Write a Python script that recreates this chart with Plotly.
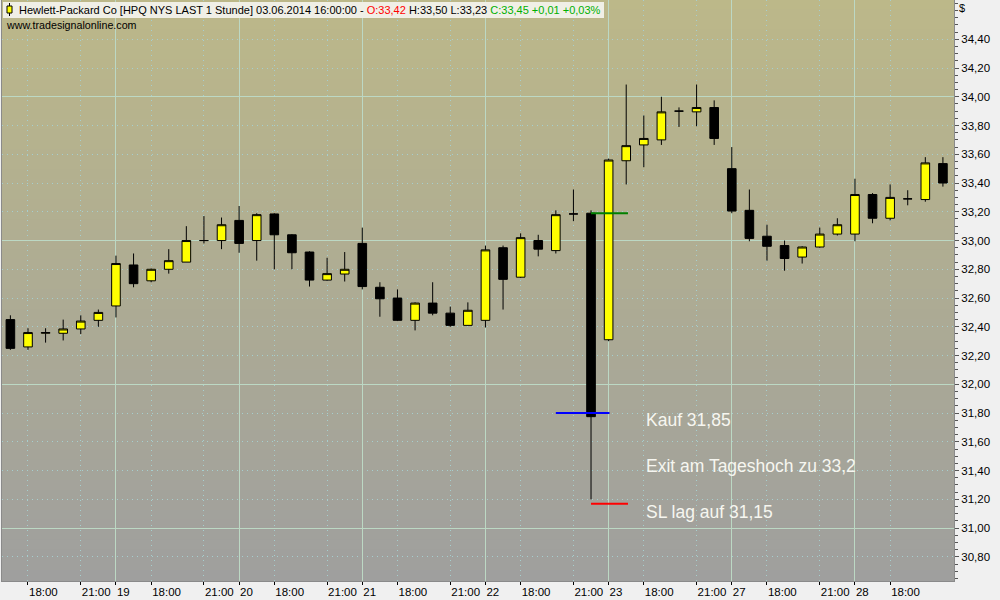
import plotly.graph_objects as go

# ---------------- data ----------------
bar_index = list(range(54))
opens = [32.45, 32.26, 32.355, 32.355, 32.385, 32.445, 32.545, 32.83, 32.72, 32.80,
         32.85, 33.00, 33.00, 33.14, 33.00, 33.185, 33.04, 32.92, 32.725, 32.767,
         32.98, 32.675, 32.60, 32.445, 32.565, 32.495, 32.41, 32.445, 32.95, 32.745,
         33.00, 32.93, 33.185, 33.19, 32.31, 33.555, 33.665, 33.70, 33.90, 33.895,
         33.925, 33.50, 33.21, 33.03, 32.965, 32.885, 32.955, 33.045, 33.045, 33.32,
         33.155, 33.29, 33.285, 33.535]
highs = [32.48, 32.39, 32.39, 32.45, 32.48, 32.52, 32.895, 32.91, 32.805, 32.94,
         33.10, 33.17, 33.16, 33.24, 33.19, 33.19, 33.045, 32.925, 32.88, 32.92,
         33.09, 32.71, 32.66, 32.57, 32.71, 32.54, 32.57, 32.965, 32.965, 33.05,
         33.04, 33.21, 33.355, 33.21, 33.57, 34.085, 33.87, 34.00, 33.926, 34.085,
         33.975, 33.65, 33.355, 33.11, 33.00, 32.96, 33.09, 33.155, 33.43, 33.33,
         33.39, 33.35, 33.58, 33.58]
lows = [32.24, 32.24, 32.29, 32.305, 32.35, 32.40, 32.465, 32.675, 32.71, 32.77,
        32.85, 32.98, 32.94, 32.915, 32.86, 32.80, 32.80, 32.68, 32.72, 32.715,
        32.66, 32.47, 32.44, 32.375, 32.48, 32.40, 32.41, 32.395, 32.52, 32.74,
        32.89, 32.91, 33.135, 31.20, 32.30, 33.39, 33.51, 33.665, 33.79, 33.795,
        33.665, 33.19, 32.995, 32.86, 32.79, 32.84, 32.95, 33.035, 32.995, 33.12,
        33.14, 33.245, 33.27, 33.375]
closes = [32.25, 32.36, 32.36, 32.385, 32.44, 32.50, 32.84, 32.70, 32.80, 32.86,
          33.00, 33.00, 33.11, 32.98, 33.18, 33.04, 32.915, 32.725, 32.77, 32.80,
          32.68, 32.595, 32.445, 32.565, 32.495, 32.41, 32.515, 32.935, 32.73, 33.02,
          32.94, 33.18, 33.185, 31.775, 33.56, 33.66, 33.71, 33.895, 33.90, 33.925,
          33.71, 33.205, 33.015, 32.96, 32.875, 32.955, 33.045, 33.11, 33.32, 33.155,
          33.30, 33.29, 33.54, 33.40]

# x-axis tick labels (bar index -> label)
tick_idx = [1, 4, 6, 8, 11, 13, 15, 18, 20, 22, 25, 27, 29, 32, 34, 36, 39, 41, 43, 46, 48, 50]
tick_text = ["18:00", "21:00", "19", "18:00", "21:00", "20", "18:00", "21:00", "21",
             "18:00", "21:00", "22", "18:00", "21:00", "23", "18:00", "21:00", "27",
             "18:00", "21:00", "28", "18:00"]
day_idx = [6, 13, 20, 27, 34, 41, 48]

# y-axis tick labels
ytick_vals = [30.8, 31.0, 31.2, 31.4, 31.6, 31.8, 32.0, 32.2, 32.4, 32.6, 32.8,
              33.0, 33.2, 33.4, 33.6, 33.8, 34.0, 34.2, 34.4]
ytick_text = ["30,80", "31,00", "31,20", "31,40", "31,60", "31,80", "32,00", "32,20",
              "32,40", "32,60", "32,80", "33,00", "33,20", "33,40", "33,60", "33,80",
              "34,00", "34,20", "34,40"]
ygrid_solid = [31.0, 32.0, 33.0, 34.0]

# trade marker lines: level, start index, end index, colour
trade_levels = [33.19, 31.80, 31.17]
trade_x0 = [33.0, 31.0, 33.0]
trade_x1 = [35.1, 34.05, 35.1]
trade_colors = ["#008000", "#0000ff", "#ff0000"]

note_texts = ["Kauf 31,85", "Exit am Tageshoch zu 33,2", "SL lag auf 31,15"]
note_levels = [31.75, 31.43, 31.11]

XR = [-0.477, 53.63]
YR = [30.632, 34.673]

# ---------------- figure ----------------
fig = go.Figure()

fig.add_trace(go.Candlestick(
    x=bar_index, open=opens, high=highs, low=lows, close=closes,
    increasing=dict(fillcolor="#ffff00", line=dict(color="#000000", width=1)),
    decreasing=dict(fillcolor="#000000", line=dict(color="#000000", width=1)),
    whiskerwidth=0, hoverinfo="skip", showlegend=False,
))

for lvl, a, b, c in zip(trade_levels, trade_x0, trade_x1, trade_colors):
    fig.add_trace(go.Scatter(x=[a, b], y=[lvl, lvl], mode="lines",
                             line=dict(color=c, width=2), showlegend=False,
                             hoverinfo="skip"))

# dummy trace for overlay axes (solid grid)
fig.add_trace(go.Scatter(x=[None], y=[None], xaxis="x2", yaxis="y2",
                         showlegend=False, hoverinfo="skip"))

# background gradient
W, H = 952.0, 581.0
top = (0xbc, 0xb8, 0x89)
bot = (0x9f, 0x9f, 0x9e)
n = 58
shapes = []
for k in range(n):
    t = (k + 0.5) / n
    col = tuple(round(top[j] + (bot[j] - top[j]) * t) for j in range(3))
    shapes.append(dict(type="rect", xref="paper", yref="paper", x0=0, x1=1,
                       y0=1 - (k + 1) / n, y1=min(1, 1 - k / n + 0.002), layer="below",
                       line=dict(width=0), fillcolor="rgb(%d,%d,%d)" % col))


def px(xp):
    return (xp - 2) / W


def py(yp):
    return 1 - yp / H


# header box and icon
shapes.append(dict(type="rect", xref="paper", yref="paper", x0=px(3), x1=px(604),
                   y0=py(18), y1=py(2), fillcolor="#f0efe6", line=dict(width=0), layer="above"))
shapes.append(dict(type="line", xref="paper", yref="paper", x0=px(9.5), x1=px(9.5),
                   y0=py(16), y1=py(3), line=dict(color="#000000", width=1), layer="above"))
shapes.append(dict(type="rect", xref="paper", yref="paper", x0=px(7), x1=px(12),
                   y0=py(13), y1=py(6), fillcolor="#ffff00",
                   line=dict(color="#000000", width=1), layer="above"))

annotations = [
    dict(xref="paper", yref="paper", x=px(17), y=py(10), xanchor="left", yanchor="middle",
         showarrow=False, font=dict(family="Liberation Sans", size=11, color="#000000"),
         text="Hewlett-Packard Co [HPQ NYS LAST 1 Stunde] 03.06.2014 16:00:00 - "
              "<span style='color:#ff0000'>O:33,42</span> H:33,50 L:33,23 "
              "<span style='color:#00b000'>C:33,45 +0,01 +0,03%</span>"),
    dict(xref="paper", yref="paper", x=px(4), y=py(25), xanchor="left", yanchor="middle",
         showarrow=False, font=dict(family="Liberation Sans", size=10.7, color="#000000"),
         text="www.tradesignalonline.com"),
    dict(xref="paper", yref="paper", x=px(957), y=py(8), xanchor="left", yanchor="middle",
         showarrow=False, font=dict(family="Liberation Sans", size=11, color="#000000"),
         text="$"),
]
for txt, lvl in zip(note_texts, note_levels):
    annotations.append(dict(xref="x", yref="y", x=36.0, y=lvl, xanchor="left",
                            yanchor="middle", showarrow=False, text=txt,
                            font=dict(family="Liberation Sans", size=17.5, color="#f6f6f0")))

DOT = "#a6cfcf"
SOLID = "#bcd8c4"

fig.update_layout(
    width=1000, height=600,
    margin=dict(l=2, r=46, t=0, b=19, autoexpand=False),
    paper_bgcolor="#f0f0f0",
    plot_bgcolor="rgba(0,0,0,0)",
    separators=",.",
    showlegend=False,
    hovermode=False,
    shapes=shapes,
    annotations=annotations,
    xaxis=dict(
        range=XR, rangeslider=dict(visible=False), fixedrange=True, automargin=False,
        tickmode="array", tickvals=tick_idx, ticktext=tick_text,
        ticklabelposition="outside right",
        ticks="outside", ticklen=3, tickcolor="#000000",
        tickfont=dict(family="Liberation Sans", size=11.5, color="#000000"),
        showgrid=True, gridcolor=DOT, griddash="1px,4px", gridwidth=1,
        showline=True, linecolor="#8a8a8a", linewidth=1, mirror=True,
        zeroline=False,
    ),
    xaxis2=dict(
        range=XR, overlaying="x", tickmode="array", tickvals=day_idx, automargin=False,
        showticklabels=False, ticks="", showgrid=True, gridcolor=SOLID,
        gridwidth=1, zeroline=False, showline=False, fixedrange=True,
    ),
    yaxis=dict(
        range=YR, side="right", fixedrange=True, automargin=False,
        tickmode="array", tickvals=ytick_vals, ticktext=ytick_text,
        ticks="outside", ticklen=4, tickcolor="#555555",
        tickfont=dict(family="Liberation Sans", size=11.5, color="#000000"),
        showgrid=True, gridcolor=DOT, griddash="1px,4px", gridwidth=1,
        minor=dict(tickmode="linear", tick0=30.0, dtick=0.05, ticks="outside",
                   ticklen=3, tickcolor="#555555", showgrid=False),
        showline=True, linecolor="#8a8a8a", linewidth=1, mirror=True,
        zeroline=False,
    ),
    yaxis2=dict(
        range=YR, overlaying="y", side="right", tickmode="array", automargin=False,
        tickvals=ygrid_solid, showticklabels=False, ticks="",
        showgrid=True, gridcolor=SOLID, gridwidth=1, zeroline=False,
        showline=False, fixedrange=True,
    ),
)

fig.write_html("out.html", config={"displayModeBar": False},
               post_script="document.body.style.margin='0';document.body.style.background='#f0f0f0';")
